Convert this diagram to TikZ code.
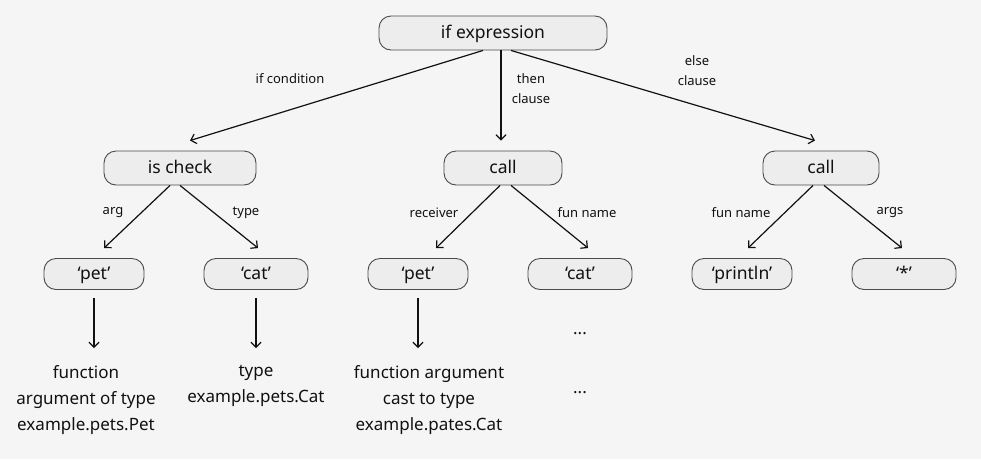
\documentclass[tikz,border=0pt]{standalone}
\usepackage{fontspec}
\setmainfont{Noto Sans}
\usetikzlibrary{arrows.meta,positioning}
\definecolor{bgcol}{HTML}{F5F5F5}
\definecolor{boxfill}{HTML}{EDEDED}
\definecolor{boxline}{HTML}{4A4A4A}
\definecolor{inkcol}{HTML}{111111}

\begin{document}
\begin{tikzpicture}[x=1pt, y=-1pt, >={Straight Barb[length=5pt,width=10pt]},
    astnode/.style={rectangle, draw=boxline, line width=0.9pt, rounded corners=12pt, fill=boxfill, text=inkcol, minimum height=34pt, inner sep=0pt, text height=13pt, text depth=2pt, font=\fontsize{17.5}{20}\selectfont},
    leafnode/.style={astnode, minimum height=31pt},
    note/.style={text=inkcol, align=center, font=\fontsize{17}{26}\selectfont},
    edgelbl/.style={text=inkcol, align=center, font=\fontsize{13}{20}\selectfont},
    ar/.style={draw=inkcol, line width=1.2pt, ->}]
    \fill [bgcol] (0,0) rectangle (981,459);
    \useasboundingbox (0,0) rectangle (981,459);
    % tree nodes
    \node [astnode, minimum width=228pt] (ifexpr) at (493,33) {if expression};
    \node [astnode, minimum width=152pt] (ischeck) at (180,168) {is check};
    \node [astnode, minimum width=118pt] (callmid) at (503,168) {call};
    \node [astnode, minimum width=116pt] (callright) at (821,168) {call};
    \node [leafnode, minimum width=100pt] (petA) at (94,274) {‘pet’};
    \node [leafnode, minimum width=104pt] (catA) at (256,274) {‘cat’};
    \node [leafnode, minimum width=100pt] (petB) at (418,274) {‘pet’};
    \node [leafnode, minimum width=104pt] (catB) at (580,274) {‘cat’};
    \node [leafnode, minimum width=100pt] (println) at (742,274) {‘println’};
    \node [leafnode, minimum width=104pt] (star) at (904,274) {‘*’};
    % meanings below leaves
    \node [note, anchor=north] (petAnote) at (86,362) {function\\argument of type\\example.pets.Pet};
    \node [note, anchor=north] (catAnote) at (256,362) {type\\example.pets.Cat};
    \node [note, anchor=north] (petBnote) at (429,362) {function argument\\cast to type\\example.pates.Cat};
    \node [note] (dotsA) at (580,334) {\textbf{...}};
    \node [note] (dotsB) at (580,393) {\textbf{...}};
    % edge labels
    \node [edgelbl] (lblcond) at (290,79) {if condition};
    \node [edgelbl] (lblthen) at (531,89) {then\\clause};
    \node [edgelbl] (lblelse) at (697,71) {else\\clause};
    \node [edgelbl] (lblarg) at (113,213) {arg};
    \node [edgelbl] (lbltype) at (246,213) {type};
    \node [edgelbl] (lblrecv) at (434,213) {receiver};
    \node [edgelbl] (lblfunA) at (587,213) {fun name};
    \node [edgelbl] (lblfunB) at (741,213) {fun name};
    \node [edgelbl] (lblargs) at (890,213) {args};
    % connectors
    \draw [ar] ([xshift=-10pt]ifexpr.south) -- ([xshift=10pt,yshift=10pt]ischeck.north);
    \draw [ar] ([xshift=8pt]ifexpr.south) -- ([xshift=-2pt,yshift=10pt]callmid.north);
    \draw [ar] ([xshift=18pt]ifexpr.south) -- ([xshift=-6pt,yshift=10pt]callright.north);
    \draw [ar] ([xshift=-10pt]ischeck.south) -- ([xshift=10pt,yshift=10pt]petA.north);
    \draw [ar] (ischeck.south) -- ([xshift=2pt,yshift=10pt]catA.north);
    \draw [ar] ([xshift=-3pt]callmid.south) -- ([xshift=18pt,yshift=10pt]petB.north);
    \draw [ar] ([xshift=8pt]callmid.south) -- ([xshift=8pt,yshift=10pt]catB.north);
    \draw [ar] ([xshift=-8pt]callright.south) -- ([xshift=6pt,yshift=10pt]println.north);
    \draw [ar] ([xshift=3pt]callright.south) -- ([xshift=-2pt,yshift=10pt]star.north);
    \draw [ar] ([yshift=-8pt]petA.south) -- ([yshift=14pt]petA.south |- petAnote.north);
    \draw [ar] ([yshift=-8pt]catA.south) -- ([yshift=14pt]catA.south |- catAnote.north);
    \draw [ar] ([yshift=-8pt]petB.south) -- ([yshift=14pt]petB.south |- petBnote.north);
\end{tikzpicture}
\end{document}
